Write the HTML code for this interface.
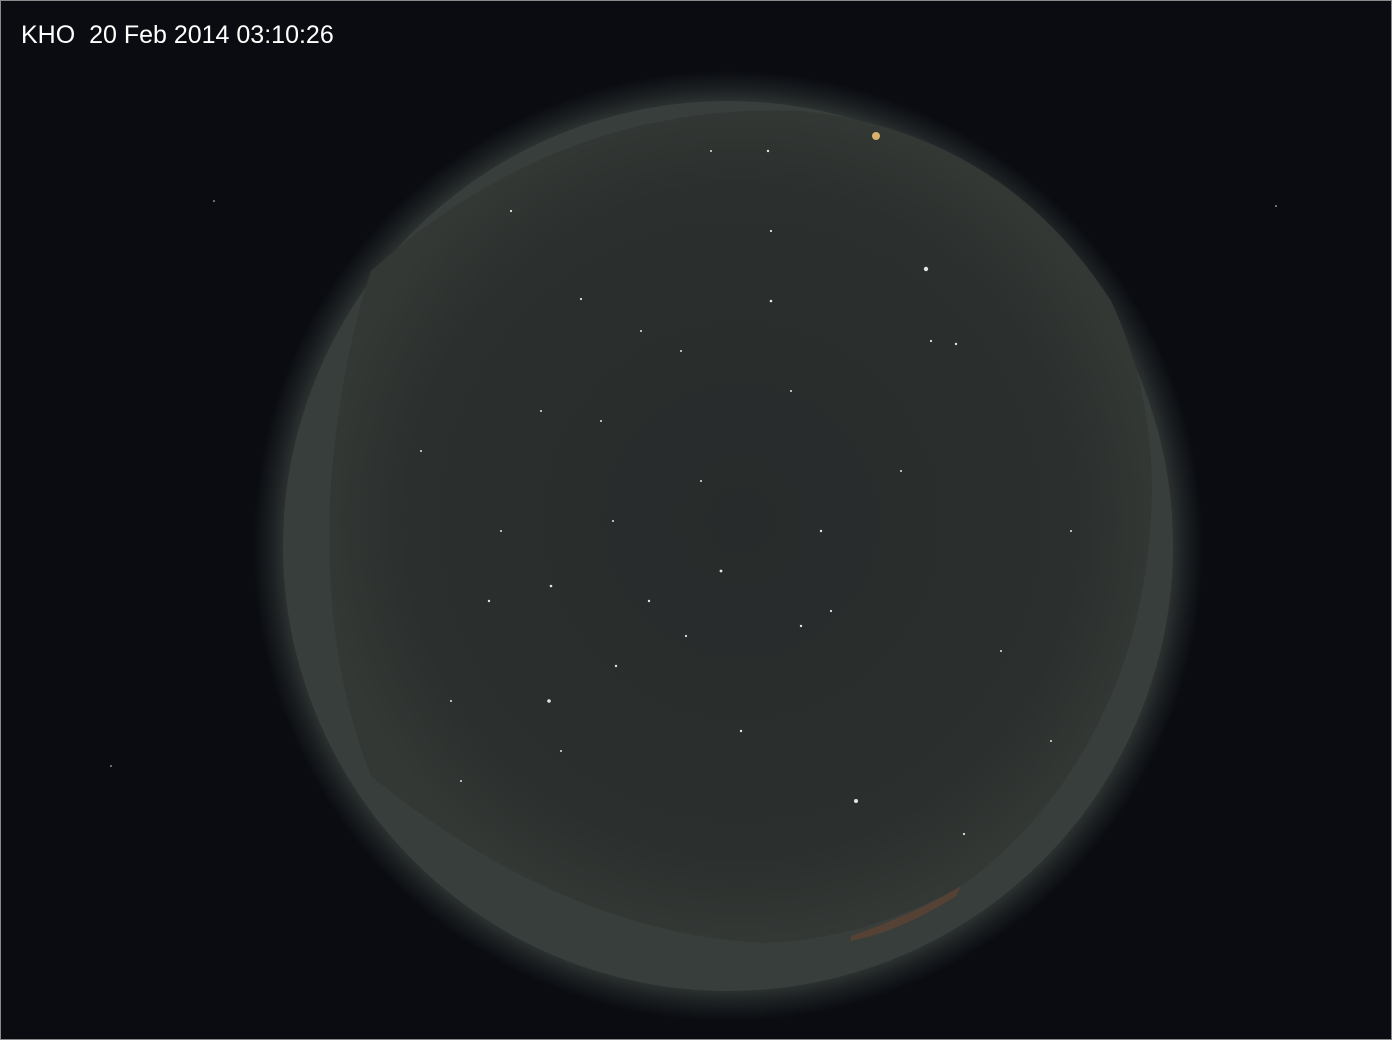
<!DOCTYPE html>
<html>
<head>
<meta charset="utf-8">
<style>
html,body{margin:0;padding:0;background:#0a0c11;}
#frame{position:relative;width:1390px;height:1038px;border:1px solid #8a8a8a;background:#0a0c11;overflow:hidden;}
#title{position:absolute;left:20px;top:20px;color:#ffffff;font-family:"Liberation Sans",sans-serif;font-size:25px;white-space:pre;}
svg{position:absolute;left:0;top:0;}
</style>
</head>
<body>
<div id="frame">
<svg width="1390" height="1038">
  <defs>
    <radialGradient id="halo" cx="727" cy="545" r="475" gradientUnits="userSpaceOnUse">
      <stop offset="0.92" stop-color="#353b39"/>
      <stop offset="0.96" stop-color="#1d2123"/>
      <stop offset="1" stop-color="#0a0c11"/>
    </radialGradient>
    <radialGradient id="sky" cx="740" cy="520" r="420" gradientUnits="userSpaceOnUse">
      <stop offset="0" stop-color="#272b2b"/>
      <stop offset="0.8" stop-color="#2b2f2d"/>
      <stop offset="1" stop-color="#333835"/>
    </radialGradient>
  </defs>
  <circle cx="727" cy="545" r="475" fill="url(#halo)"/>
  <circle cx="727" cy="545" r="445" fill="#383e3b"/>
  <path d="M370,270 Q560,100 800,110 Q1000,130 1110,300 Q1180,450 1130,640 Q1080,800 960,885 Q860,940 760,942 Q560,930 370,775 Q320,650 330,480 Q340,360 370,270 Z" fill="url(#sky)"/>
  <path d="M850,935 Q920,910 960,885 L955,895 Q900,930 850,940 Z" fill="#6a4630" opacity="0.6"/>
  <circle cx="875" cy="135" r="4" fill="#e8c070" opacity="0.9"/>
  <g id="stars"></g>
</svg>
<div id="title">KHO  20 Feb 2014 03:10:26</div>
</div>
<script>
const starX=[925,767,770,580,548,648,510,955,930,820,720,550,615,685,800,855,740,963,488,600,700,900,770,540,680,500,830,1000,450,420,1070,640,560,460,1050,1275,110,213,612,790,710];
const starY=[268,150,300,298,700,600,210,343,340,530,570,585,665,635,625,800,730,833,600,420,480,470,230,410,350,530,610,650,700,450,530,330,750,780,740,205,765,200,520,390,150];
const starR=[2.2,1.2,1.3,1.1,1.8,1.2,1.1,1.2,1.1,1.2,1.4,1.3,1.2,1.1,1.2,2,1.2,1.1,1.2,1,1,1,1.1,1,1,1,1.1,1,1,1,1,1,1,1,1,0.8,0.8,0.8,1,1,1];
const g=document.getElementById('stars');
for(let i=0;i<starX.length;i++){
  const c=document.createElementNS('http://www.w3.org/2000/svg','circle');
  c.setAttribute('cx',starX[i]);c.setAttribute('cy',starY[i]);c.setAttribute('r',starR[i]);
  c.setAttribute('fill','#dfe6e6');
  
  
  g.appendChild(c);
}
</script>
</body>
</html>
